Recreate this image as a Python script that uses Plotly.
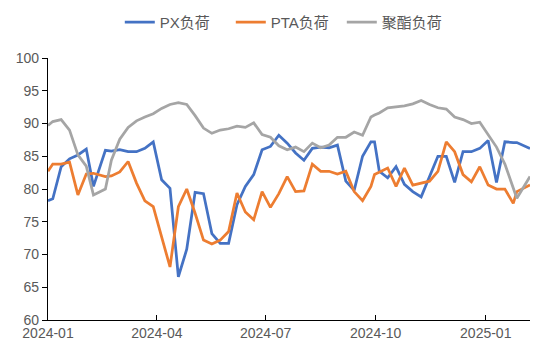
import plotly.graph_objects as go

dates = [
    "2024-01-01", "2024-01-05", "2024-01-12", "2024-01-19", "2024-01-26",
    "2024-02-02", "2024-02-08", "2024-02-18", "2024-02-23", "2024-03-01",
    "2024-03-08", "2024-03-15", "2024-03-22", "2024-03-29", "2024-04-05",
    "2024-04-12", "2024-04-19", "2024-04-26", "2024-05-03", "2024-05-10",
    "2024-05-17", "2024-05-24", "2024-05-31", "2024-06-07", "2024-06-14",
    "2024-06-21", "2024-06-28", "2024-07-05", "2024-07-12", "2024-07-19",
    "2024-07-26", "2024-08-02", "2024-08-09", "2024-08-16", "2024-08-23",
    "2024-08-30", "2024-09-06", "2024-09-13", "2024-09-20", "2024-09-27",
    "2024-09-30", "2024-10-04", "2024-10-11", "2024-10-18", "2024-10-25",
    "2024-11-01", "2024-11-08", "2024-11-15", "2024-11-22", "2024-11-29",
    "2024-12-06", "2024-12-13", "2024-12-20", "2024-12-27", "2025-01-03",
    "2025-01-10", "2025-01-17", "2025-01-24", "2025-01-27", "2025-02-07",
]

px_load = [
    78.2, 78.5, 83.4, 84.6, 85.2, 86.1, 80.4, 85.9, 85.8, 86.0,
    85.7, 85.7, 86.2, 87.2, 81.4, 80.1, 66.6, 70.8, 79.5, 79.3,
    73.2, 71.7, 71.7, 77.6, 80.4, 82.2, 86.0, 86.5, 88.2, 87.0,
    85.5, 84.4, 86.2, 86.4, 86.3, 86.7, 81.2, 79.8, 85.0, 87.2,
    87.2, 82.7, 81.7, 83.4, 80.7, 79.6, 78.8, 82.0, 85.0, 85.0,
    81.0, 85.7, 85.7, 86.2, 87.4, 81.0, 87.2, 87.1, 87.1, 86.2,
]

pta_load = [
    82.7, 83.8, 83.8, 84.1, 79.1, 82.3, 82.4, 81.9, 82.0, 82.6,
    84.2, 80.9, 78.2, 77.3, 72.7, 68.1, 77.3, 80.0, 76.3, 72.2,
    71.6, 72.2, 73.5, 79.4, 76.5, 75.3, 79.6, 77.2, 79.3, 81.9,
    79.6, 79.7, 83.8, 82.7, 82.7, 82.3, 82.7, 79.6, 78.2, 80.4,
    82.2, 82.6, 83.2, 80.4, 83.2, 80.6, 80.9, 81.2, 82.7, 87.2,
    85.7, 82.2, 81.1, 83.4, 80.6, 80.0, 80.0, 77.8, 79.6, 80.6,
]

polyester_load = [
    89.7, 90.3, 90.6, 89.0, 85.2, 83.5, 79.1, 80.0, 84.4, 87.6,
    89.4, 90.4, 91.0, 91.5, 92.3, 92.9, 93.2, 92.9, 91.2, 89.3,
    88.5, 89.0, 89.2, 89.6, 89.4, 90.1, 88.3, 87.9, 86.6, 86.0,
    86.4, 85.7, 87.0, 86.3, 86.7, 87.9, 87.9, 88.7, 88.2, 91.0,
    91.3, 91.6, 92.4, 92.5, 92.7, 93.0, 93.5, 92.9, 92.4, 92.2,
    91.0, 90.6, 90.0, 90.2, 88.3, 86.4, 83.8, 80.2, 78.6, 81.9,
]

series_names = ["PX负荷", "PTA负荷", "聚酯负荷"]
series_colors = ["#4472C4", "#ED7D31", "#A5A5A5"]

tick_vals = ["2024-01-01", "2024-04-01", "2024-07-01", "2024-10-01", "2025-01-01"]
tick_text = ["2024-01", "2024-04", "2024-07", "2024-10", "2025-01"]

FONT = "Liberation Sans, Arial, Noto Sans CJK SC, sans-serif"

fig = go.Figure()
for name, vals, color in zip(series_names, [px_load, pta_load, polyester_load], series_colors):
    fig.add_trace(go.Scatter(
        x=dates, y=vals, mode="lines", name=name,
        line=dict(color=color, width=2.75),
    ))

fig.update_layout(
    width=550, height=357,
    margin=dict(l=40, r=28, t=50, b=45, autoexpand=False),
    paper_bgcolor="white", plot_bgcolor="white",
    font=dict(family=FONT, size=14, color="#595959"),
    showlegend=True,
    legend=dict(
        orientation="h", xref="container", yref="container",
        x=0.506, xanchor="center", y=0.96, yanchor="middle",
        font=dict(size=15, color="#595959"),
        entrywidth=66, entrywidthmode="pixels",
    ),
    xaxis=dict(
        type="date",
        range=["2024-01-01", "2025-02-07"],
        tickvals=tick_vals, ticktext=tick_text,
        showgrid=False, zeroline=False, automargin=False,
        showline=True, linecolor="#000000", linewidth=1.2,
        ticks="inside", ticklen=5, tickcolor="#000000",
        tickfont=dict(size=14, color="#595959"),
    ),
    yaxis=dict(
        range=[60, 100], dtick=5,
        showgrid=False, zeroline=False, automargin=False,
        showline=True, linecolor="#000000", linewidth=1.2,
        ticks="outside", ticklen=5, tickcolor="#000000",
        tickfont=dict(size=14, color="#595959"),
    ),
)

fig.write_html("out.html")
